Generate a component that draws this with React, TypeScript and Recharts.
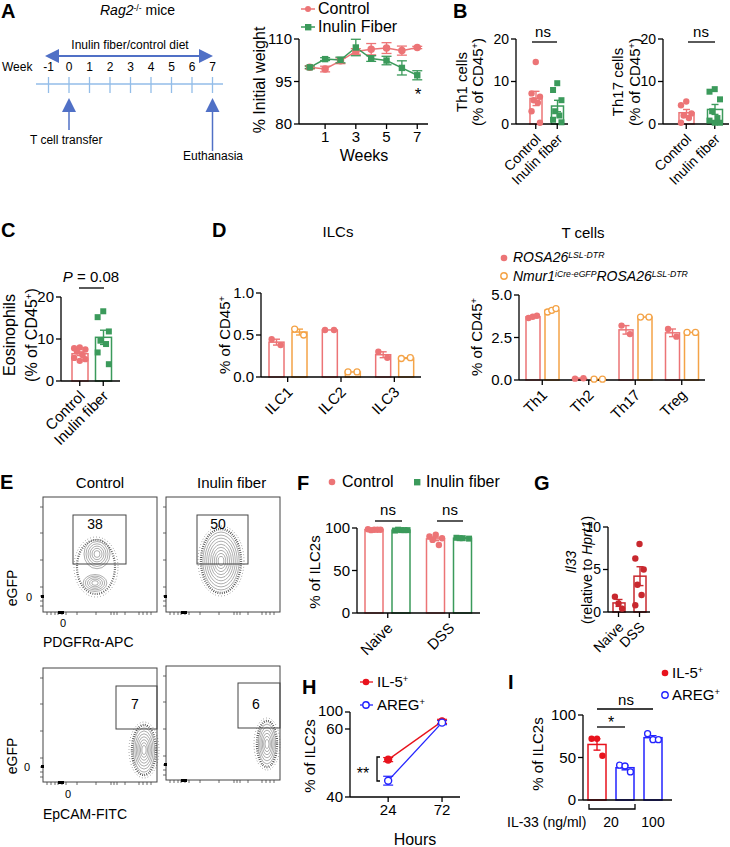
import React from "react";
import { ComposedChart, LineChart, Line, Bar, Scatter, XAxis, YAxis, ErrorBar } from "recharts";

const FONT = '"Liberation Sans", Arial, Helvetica, sans-serif';
const PINK = "#ec7476";
const GREEN = "#3b9a5b";
const ORANGE = "#f4a347";
const RED = "#e8121c";
const BLUE = "#2323ff";
const DARKRED = "#c8282e";
const ARROW = "#5070c6";
const TIMELINE = "#93bde8";

// ---- A: body weight over time ----
const weeks = [0, 1, 2, 3, 4, 5, 6, 7];
const weightControl = [100, 99.4, 102.3, 105.6, 106.4, 106.8, 105.9, 107];
const weightControlErr = [0.6, 1.0, 1.0, 1.0, 2.0, 1.9, 1.6, 0.4];
const weightInulin = [100, 102.9, 102.6, 107, 103.1, 102.4, 99.8, 97.2];
const weightInulinErr = [0.4, 0.5, 1.0, 2.9, 1.0, 1.5, 2.5, 1.6];
const schematicWeeks = [-1, 0, 1, 2, 3, 4, 5, 6, 7];

// ---- B / C: colon T cells and eosinophils ----
const dietGroups = ["Control", "Inulin fiber"];
const th1Control = [14.6, 7.2, 6.4, 5.6, 5.0, 3.0, 0.3];
const th1Inulin = [9.6, 8.0, 5.6, 3.0, 2.0, 1.0, 0.4];
const th17Control = [5.3, 4.4, 2.5, 2.0, 1.4, 0.3];
const th17Inulin = [8.2, 7.6, 5.8, 3.0, 1.4, 0.8, 0.3, 0.3];
const eosControl = [8.0, 7.8, 7.5, 7.0, 6.2, 5.5, 5.2, 4.8];
const eosInulin = [16.6, 15.2, 11.8, 9.6, 8.8, 6.8, 4.0];

// ---- D: ILCs and T cells ----
const ilcTypes = ["ILC1", "ILC2", "ILC3"];
const ilcRosa = [[0.45, 0.38], [0.56, 0.56], [0.3, 0.23]];
const ilcNmur = [[0.57, 0.5], [0.06, 0.06], [0.22, 0.23]];
const tTypes = ["Th1", "Th2", "Th17", "Treg"];
const tRosa = [[3.65, 3.72, 3.78], [0.08, 0.1], [3.2, 2.7], [3.0, 2.55]];
const tNmur = [[4.0, 4.1, 4.2], [0.05, 0.05], [3.7, 3.7], [2.8, 2.8]];

// ---- F / G ----
const colitisGroups = ["Naive", "DSS"];
const fControl = [[98, 98.5, 98, 97.5, 98], [92, 90, 88, 86, 80]];
const fInulin = [[97.5, 97, 97.5, 98, 97.5], [88, 88.5, 87.5, 88]];
const il33 = [[1.8, 1.0, 0.4], [8.0, 6.3, 5.0, 3.2, 2.0, 0.8]];

// ---- H / I ----
const hours = [24, 72];
const il5Pct = [51, 78];
const il5Err = [0.6, 0.6];
const aregPct = [44.8, 75];
const aregErr = [1.3, 0.6];
const iGroups = ["IL-5 20", "AREG 20", "AREG 100"];
const iValues = [[72, 72, 52], [41, 40, 33], [78, 71, 71]];

const mean = (a: number[]) => a.reduce((s, v) => s + v, 0) / a.length;
const sem = (a: number[]) => {
  if (a.length < 2) return 0;
  const m = mean(a);
  return Math.sqrt(a.reduce((s, v) => s + (v - m) ** 2, 0) / (a.length - 1) / a.length);
};
// H uses a broken y axis: everything above 60 is squeezed
const brk = (v: number) => (v <= 60 ? v : 60 + (v - 60) / 8);

function jitter(i: number, n: number, bw: number) {
  if (n === 1) return 0;
  if (n <= 3) return (i / (n - 1) - 0.5) * 0.6 * bw;
  const pat = [0, -1, 1, -0.5, 0.5, -1, 1, 0];
  return pat[i % pat.length] * 0.35 * bw;
}

const axisStyle = (fs: number) => ({
  axisLine: { stroke: "#000", strokeWidth: 1.3 },
  tickLine: { stroke: "#000", strokeWidth: 1.3 },
  tickSize: 5,
  tick: { fill: "#000", fontSize: fs, fontFamily: FONT },
});

function hollowBar(meanKey: string, semKey: string, color?: string) {
  return (p: any) => {
    const { x, y, width, height, payload } = p;
    const c = color ?? payload.color;
    const m = payload[meanKey];
    const e = payload[semKey] || 0;
    const ppu = m ? height / m : 0;
    const cx = x + width / 2;
    const up = y - e * ppu;
    const dn = y + e * ppu;
    return (
      <g>
        <rect x={x} y={y} width={width} height={height} fill="#fff" stroke={c} strokeWidth={1.5} />
        {e > 0 && (
          <g stroke={c} strokeWidth={1.4}>
            <line x1={cx} x2={cx} y1={up} y2={dn} />
            <line x1={cx - 3.5} x2={cx + 3.5} y1={up} y2={up} />
            <line x1={cx - 3.5} x2={cx + 3.5} y1={dn} y2={dn} />
          </g>
        )}
      </g>
    );
  };
}

const dotShape = (p: any) => {
  const { cx, cy, payload } = p;
  const x = cx + payload.dx;
  if (payload.m === "sq") return <rect x={x - 3} y={cy - 3} width={6} height={6} fill={payload.c} />;
  if (payload.m === "ring")
    return <circle cx={x} cy={cy} r={3} fill="#fff" stroke={payload.c} strokeWidth={1.3} />;
  return <circle cx={x} cy={cy} r={3.2} fill={payload.c} />;
};

const RotTick = (fs: number) => (props: any) => {
  const { x, y, payload } = props;
  const ax = x + 6;
  const ay = y + 9;
  return (
    <text x={ax} y={ay} transform={`rotate(-45 ${ax} ${ay})`} textAnchor="end" fontSize={fs} fontFamily={FONT} fill="#000">
      {payload.value}
    </text>
  );
};

type Cat = { name: string; color: string; pts: number[]; marker: string };

function BarDots(props: any) {
  const { x0, y0, x1, y1, cats, domain, ticks, bw, padL = 0, padR = 0, fmt, fs = 14, labels = true } = props;
  const YW = 44, T = 8, R = 6, XH = 80;
  const rows = cats.map((c: Cat) => ({ name: c.name, mean: mean(c.pts), sem: sem(c.pts), color: c.color }));
  const pts = cats.flatMap((c: Cat) =>
    c.pts.map((v, i) => ({ name: c.name, v, dx: jitter(i, c.pts.length, bw), c: c.color, m: c.marker }))
  );
  return (
    <div style={{ position: "absolute", left: x0 - YW, top: y0 - T }}>
      <ComposedChart width={x1 - x0 + YW + R} height={y1 - y0 + T + XH} data={rows} margin={{ top: T, right: R, left: 0, bottom: 0 }}>
        <XAxis
          dataKey="name"
          type="category"
          allowDuplicatedCategory={false}
          interval={0}
          height={XH}
          padding={{ left: padL, right: padR }}
          {...axisStyle(fs)}
          tick={labels ? RotTick(fs) : false}
        />
        <YAxis width={YW} type="number" domain={domain} ticks={ticks} interval={0} tickFormatter={fmt} {...axisStyle(fs)} />
        <Bar dataKey="mean" barSize={bw} isAnimationActive={false} shape={hollowBar("mean", "sem")} />
        <Scatter data={pts} dataKey="v" isAnimationActive={false} shape={dotShape} />
      </ComposedChart>
    </div>
  );
}

function Grouped(props: any) {
  const { x0, y0, x1, y1, types, a, b, ca, cb, ma, mb, domain, ticks, bw, gap, fmt, fs = 15 } = props;
  const YW = 44, T = 8, R = 6, XH = 70;
  const off = (bw + gap) / 2;
  const rows = types.map((t: string, i: number) => ({ name: t, a: mean(a[i]), ae: sem(a[i]), b: mean(b[i]), be: sem(b[i]) }));
  const pa = types.flatMap((t: string, i: number) =>
    a[i].map((v: number, j: number) => ({ name: t, v, dx: -off + jitter(j, a[i].length, bw), c: ca, m: ma }))
  );
  const pb = types.flatMap((t: string, i: number) =>
    b[i].map((v: number, j: number) => ({ name: t, v, dx: off + jitter(j, b[i].length, bw), c: cb, m: mb }))
  );
  return (
    <div style={{ position: "absolute", left: x0 - YW, top: y0 - T }}>
      <ComposedChart width={x1 - x0 + YW + R} height={y1 - y0 + T + XH} data={rows} barGap={gap} margin={{ top: T, right: R, left: 0, bottom: 0 }}>
        <XAxis dataKey="name" type="category" allowDuplicatedCategory={false} interval={0} height={XH} {...axisStyle(fs)} tick={RotTick(fs)} />
        <YAxis width={YW} type="number" domain={domain} ticks={ticks} interval={0} tickFormatter={fmt} {...axisStyle(fs)} />
        <Bar dataKey="a" barSize={bw} isAnimationActive={false} shape={hollowBar("a", "ae", ca)} />
        <Bar dataKey="b" barSize={bw} isAnimationActive={false} shape={hollowBar("b", "be", cb)} />
        <Scatter data={pa} dataKey="v" isAnimationActive={false} shape={dotShape} />
        <Scatter data={pb} dataKey="v" isAnimationActive={false} shape={dotShape} />
      </ComposedChart>
    </div>
  );
}

const weightRows = weeks.map((w, i) => ({
  w,
  c: weightControl[i],
  ce: weightControlErr[i],
  f: weightInulin[i],
  fe: weightInulinErr[i],
}));

function WeightChart() {
  const x0 = 299, y0 = 39, x1 = 428, y1 = 124;
  const YW = 44, T = 8, R = 6, XH = 30;
  return (
    <div style={{ position: "absolute", left: x0 - YW, top: y0 - T }}>
      <LineChart width={x1 - x0 + YW + R} height={y1 - y0 + T + XH} data={weightRows} margin={{ top: T, right: R, left: 0, bottom: 0 }}>
        <XAxis dataKey="w" type="number" domain={[-0.7, 7.7]} ticks={[1, 3, 5, 7]} interval={0} height={XH} {...axisStyle(15)} />
        <YAxis width={YW} type="number" domain={[80, 110]} ticks={[80, 95, 110]} interval={0} {...axisStyle(15)} />
        <Line dataKey="c" stroke={PINK} strokeWidth={1.5} dot={{ r: 3, fill: PINK, stroke: PINK }} isAnimationActive={false}>
          <ErrorBar dataKey="ce" direction="y" width={5} stroke={PINK} strokeWidth={1.3} />
        </Line>
        <Line
          dataKey="f"
          stroke={GREEN}
          strokeWidth={1.5}
          isAnimationActive={false}
          dot={(p: any) => <rect key={`sq${p.index}`} x={p.cx - 3.2} y={p.cy - 3.2} width={6.4} height={6.4} fill={GREEN} />}
        >
          <ErrorBar dataKey="fe" direction="y" width={5} stroke={GREEN} strokeWidth={1.3} />
        </Line>
      </LineChart>
    </div>
  );
}

const hRows = hours.map((h, i) => ({ h, il5: brk(il5Pct[i]), il5e: il5Err[i], areg: brk(aregPct[i]), arege: aregErr[i] }));

function KineticsChart() {
  const x0 = 350, y0 = 712, x1 = 460, y1 = 797;
  const YW = 44, T = 18, R = 6, XH = 30;
  return (
    <div style={{ position: "absolute", left: x0 - YW, top: y0 - T }}>
      <LineChart width={x1 - x0 + YW + R} height={y1 - y0 + T + XH} data={hRows} margin={{ top: T, right: R, left: 0, bottom: 0 }}>
        <XAxis dataKey="h" type="number" domain={[-10, 88]} ticks={hours} interval={0} height={XH} {...axisStyle(15)} />
        <YAxis
          width={YW}
          type="number"
          domain={[40, brk(100)]}
          ticks={[40, 60, brk(100)]}
          interval={0}
          tickFormatter={(v: number) => (v > 61 ? "" : String(v))}
          {...axisStyle(15)}
        />
        <Line dataKey="il5" stroke={RED} strokeWidth={1.3} dot={{ r: 3.5, fill: RED, stroke: RED }} isAnimationActive={false}>
          <ErrorBar dataKey="il5e" direction="y" width={5} stroke={RED} strokeWidth={1.2} />
        </Line>
        <Line dataKey="areg" stroke={BLUE} strokeWidth={1.3} dot={{ r: 3.5, fill: "#fff", stroke: BLUE, strokeWidth: 1.4 }} isAnimationActive={false}>
          <ErrorBar dataKey="arege" direction="y" width={5} stroke={BLUE} strokeWidth={1.2} />
        </Line>
      </LineChart>
    </div>
  );
}

function Tx(props: any) {
  const { x, y, s = 15, a = "start", r = 0, b = false, i = false, c = "#000", children } = props;
  const tx = a === "start" ? "0" : a === "middle" ? "-50%" : "-100%";
  return (
    <div
      style={{
        position: "absolute",
        left: x,
        top: y,
        transform: `translate(${tx}, -50%) rotate(${r}deg)`,
        fontSize: s,
        fontWeight: b ? "bold" : "normal",
        fontStyle: i ? "italic" : "normal",
        color: c,
        whiteSpace: "nowrap",
        lineHeight: 1.1,
        fontFamily: FONT,
      }}
    >
      {children}
    </div>
  );
}

const Sup = ({ children }: any) => <sup style={{ fontSize: "0.62em", verticalAlign: "0.55em", lineHeight: 0 }}>{children}</sup>;

function Blob({ cx, cy, rx, ry, rings = 6, outer = true }: any) {
  return (
    <g>
      {outer && (
        <>
          <ellipse cx={cx} cy={cy} rx={rx + 3} ry={ry + 3} fill="none" stroke="#666" strokeWidth={1} strokeDasharray="0.6 2.4" />
          <ellipse cx={cx} cy={cy} rx={rx} ry={ry} fill="none" stroke="#222" strokeWidth={2.4} strokeDasharray="0.8 1.4" opacity={0.85} />
        </>
      )}
      {Array.from({ length: rings }, (_, k) => (
        <ellipse
          key={k}
          cx={cx}
          cy={cy}
          rx={rx * (1 - (k + 1) / (rings + 1.5))}
          ry={ry * (1 - (k + 1) / (rings + 1.5))}
          fill="none"
          stroke="#8a8a8a"
          strokeWidth={0.7}
        />
      ))}
    </g>
  );
}

function FlowBox({ x, y, w, h, gate, children }: any) {
  const lt = [10, 36, 63, 90, 99, 104, 109];
  const bt = [4, 8, 12, 15, 19, 23, 34, 53, 68, 71, 74, 82, 96, 100, 104, 108];
  return (
    <g>
      {children}
      <rect x={x} y={y} width={w} height={h} fill="none" stroke="#444" strokeWidth={1} />
      {lt.map((t) => (
        <line key={"l" + t} x1={x - 3} x2={x} y1={y + t} y2={y + t} stroke="#444" strokeWidth={0.8} />
      ))}
      {bt.map((t) => (
        <line key={"b" + t} x1={x + t} x2={x + t} y1={y + h} y2={y + h + 3} stroke="#444" strokeWidth={0.8} />
      ))}
      <rect x={x - 2} y={y + h - 17} width={3} height={3} fill="#000" />
      <rect x={x + 15} y={y + h - 1} width={6} height={3} fill="#000" />
      <rect x={gate[0]} y={gate[1]} width={gate[2]} height={gate[3]} fill="none" stroke="#444" strokeWidth={1} />
    </g>
  );
}

function Drawings() {
  const wx = (w: number) => 69 + 20.5 * w;
  return (
    <svg width={730} height={847} style={{ position: "absolute", left: 0, top: 0 }}>
      {/* A schematic */}
      <line x1={57} x2={201} y1={56} y2={56} stroke={ARROW} strokeWidth={2} />
      <polygon points="45,56 59,49 59,63" fill={ARROW} />
      <polygon points="213,56 199,49 199,63" fill={ARROW} />
      <line x1={36} x2={223} y1={84} y2={84} stroke={TIMELINE} strokeWidth={1.5} />
      {schematicWeeks.map((w) => (
        <line key={w} x1={wx(w)} x2={wx(w)} y1={77} y2={93} stroke={TIMELINE} strokeWidth={1.3} />
      ))}
      <polygon points={`${wx(0)},98 ${wx(0) - 7},112 ${wx(0) + 7},112`} fill={ARROW} />
      <line x1={wx(0)} x2={wx(0)} y1={110} y2={130} stroke={ARROW} strokeWidth={1.5} />
      <polygon points={`${wx(7)},98 ${wx(7) - 7},112 ${wx(7) + 7},112`} fill={ARROW} />
      <line x1={wx(7)} x2={wx(7)} y1={110} y2={151} stroke={ARROW} strokeWidth={1.5} />

      {/* significance marks */}
      <g stroke="#000" strokeWidth={1.3} fill="none">
        <line x1={532} x2={557} y1={42} y2={42} />
        <line x1={688} x2={715} y1={42} y2={42} />
        <line x1={79} x2={104} y1={288} y2={288} />
        <line x1={375} x2={402} y1={521} y2={521} />
        <line x1={437} x2={463} y1={521} y2={521} />
        <path d="M380 757 H377 V781 H380" />
        <line x1={597} x2={653} y1={709} y2={709} />
        <line x1={597} x2={625} y1={727} y2={727} />
        <path d="M589 804 V809 H635 V804" />
      </g>

      {/* E flow plots */}
      <FlowBox x={43} y={497} w={114} h={115} gate={[73, 515, 53, 49]}>
        <ellipse cx={96} cy={567} rx={22} ry={30} fill="none" stroke="#666" strokeWidth={1} strokeDasharray="0.6 2.4" />
        <ellipse cx={96} cy={567} rx={19} ry={27} fill="none" stroke="#222" strokeWidth={2.2} strokeDasharray="0.8 1.5" opacity={0.8} />
        <Blob cx={97} cy={554} rx={15} ry={17} rings={6} outer={false} />
        <Blob cx={95} cy={583} rx={14} ry={10} rings={5} outer={false} />
      </FlowBox>
      <FlowBox x={166} y={497} w={114} h={115} gate={[197, 515, 51, 49]}>
        <Blob cx={221} cy={561} rx={20} ry={32} rings={9} />
      </FlowBox>
      <FlowBox x={43} y={668} w={114} h={114} gate={[116, 686, 41, 43]}>
        <Blob cx={144} cy={750} rx={12} ry={25} rings={7} />
      </FlowBox>
      <FlowBox x={166} y={666} w={114} h={114} gate={[238, 683, 42, 45]}>
        <Blob cx={267} cy={744} rx={10} ry={23} rings={6} />
      </FlowBox>

      {/* legend markers */}
      <line x1={301} x2={315} y1={9} y2={9} stroke={PINK} strokeWidth={1.5} />
      <circle cx={308} cy={9} r={3} fill={PINK} />
      <line x1={301} x2={315} y1={27} y2={27} stroke={GREEN} strokeWidth={1.5} />
      <rect x={305} y={24} width={6.4} height={6.4} fill={GREEN} />
      <circle cx={504} cy={258} r={3.3} fill={PINK} />
      <circle cx={504} cy={276} r={3.2} fill="#fff" stroke={ORANGE} strokeWidth={1.4} />
      <circle cx={332} cy={482} r={3.3} fill={PINK} />
      <rect x={414} y={479} width={6.4} height={6.4} fill={GREEN} />
      <line x1={360} x2={373} y1={682} y2={682} stroke={RED} strokeWidth={1.3} />
      <circle cx={366} cy={682} r={3.3} fill={RED} />
      <line x1={360} x2={373} y1={705} y2={705} stroke={BLUE} strokeWidth={1.3} />
      <circle cx={366} cy={705} r={3.2} fill="#fff" stroke={BLUE} strokeWidth={1.4} />
      <circle cx={665} cy={673} r={3.3} fill={RED} />
      <circle cx={665} cy={695} r={3.2} fill="#fff" stroke={BLUE} strokeWidth={1.4} />
    </svg>
  );
}

function Labels() {
  const wx = (w: number) => 69 + 20.5 * w;
  const cd45 = (
    <>
      (% of CD45<Sup>+</Sup>)
    </>
  );
  return (
    <>
      {/* panel letters */}
      <Tx x={1} y={11} s={20} b>A</Tx>
      <Tx x={453} y={11} s={20} b>B</Tx>
      <Tx x={1} y={230} s={20} b>C</Tx>
      <Tx x={212} y={230} s={20} b>D</Tx>
      <Tx x={0} y={482} s={20} b>E</Tx>
      <Tx x={297} y={483} s={20} b>F</Tx>
      <Tx x={534} y={483} s={20} b>G</Tx>
      <Tx x={302} y={687} s={20} b>H</Tx>
      <Tx x={508} y={682} s={20} b>I</Tx>

      {/* A schematic */}
      <Tx x={100} y={11} s={14}>
        <i>Rag2</i>
        <Sup>-/-</Sup> mice
      </Tx>
      <Tx x={130} y={46} s={12} a="middle">Inulin fiber/control diet</Tx>
      <Tx x={2} y={68} s={12}>Week</Tx>
      {schematicWeeks.map((w) => (
        <Tx key={w} x={wx(w)} y={68} s={12} a="middle">
          {w}
        </Tx>
      ))}
      <Tx x={30} y={141} s={12}>T cell transfer</Tx>
      <Tx x={183} y={157} s={12}>Euthanasia</Tx>

      {/* A chart */}
      <Tx x={318} y={9} s={16}>Control</Tx>
      <Tx x={318} y={27} s={16}>Inulin Fiber</Tx>
      <Tx x={260} y={80} s={16} a="middle" r={-90}>% Initial weight</Tx>
      <Tx x={364} y={156} s={16} a="middle">Weeks</Tx>
      <Tx x={418} y={95} s={17} a="middle">*</Tx>

      {/* B */}
      <Tx x={462} y={82} s={15} a="middle" r={-90}>Th1 cells</Tx>
      <Tx x={478} y={82} s={15} a="middle" r={-90}>{cd45}</Tx>
      <Tx x={543} y={32} s={15} a="middle">ns</Tx>
      <Tx x={618} y={82} s={15} a="middle" r={-90}>Th17 cells</Tx>
      <Tx x={635} y={82} s={15} a="middle" r={-90}>{cd45}</Tx>
      <Tx x={701} y={32} s={15} a="middle">ns</Tx>

      {/* C */}
      <Tx x={10} y={335} s={16} a="middle" r={-90}>Eosinophils</Tx>
      <Tx x={32} y={335} s={16} a="middle" r={-90}>{cd45}</Tx>
      <Tx x={91} y={277} s={15} a="middle">
        <i>P</i> = 0.08
      </Tx>

      {/* D */}
      <Tx x={338} y={232} s={15} a="middle">ILCs</Tx>
      <Tx x={583} y={233} s={15} a="middle">T cells</Tx>
      <Tx x={225} y={335} s={15} a="middle" r={-90}>
        % of CD45<Sup>+</Sup>
      </Tx>
      <Tx x={477} y={337} s={15} a="middle" r={-90}>
        % of CD45<Sup>+</Sup>
      </Tx>
      <Tx x={513} y={258} s={14} i>
        ROSA26<Sup>LSL-DTR</Sup>
      </Tx>
      <Tx x={513} y={277} s={14} i>
        Nmur1<Sup>iCre-eGFP</Sup>ROSA26<Sup>LSL-DTR</Sup>
      </Tx>

      {/* E */}
      <Tx x={100} y={483} s={15} a="middle">Control</Tx>
      <Tx x={197} y={483} s={15}>Inulin fiber</Tx>
      <Tx x={95} y={525} s={14} a="middle">38</Tx>
      <Tx x={218} y={525} s={14} a="middle">50</Tx>
      <Tx x={135} y={705} s={14} a="middle">7</Tx>
      <Tx x={256} y={705} s={14} a="middle">6</Tx>
      <Tx x={13} y={588} s={14} a="middle" r={-90}>eGFP</Tx>
      <Tx x={13} y={756} s={14} a="middle" r={-90}>eGFP</Tx>
      <Tx x={29} y={597} s={11} a="middle">0</Tx>
      <Tx x={63} y={623} s={11} a="middle">0</Tx>
      <Tx x={27} y={767} s={11} a="middle">0</Tx>
      <Tx x={68} y={794} s={11} a="middle">0</Tx>
      <Tx x={43} y={643} s={14}>PDGFRα-APC</Tx>
      <Tx x={43} y={815} s={14}>EpCAM-FITC</Tx>

      {/* F */}
      <Tx x={342} y={482} s={16}>Control</Tx>
      <Tx x={426} y={482} s={16}>Inulin fiber</Tx>
      <Tx x={315} y={572} s={15} a="middle" r={-90}>% of ILC2s</Tx>
      <Tx x={388} y={510} s={15} a="middle">ns</Tx>
      <Tx x={450} y={510} s={15} a="middle">ns</Tx>

      {/* G */}
      <Tx x={572} y={562} s={14} a="middle" r={-90} i>Il33</Tx>
      <Tx x={588} y={570} s={14} a="middle" r={-90}>
        (relative to <i>Hprt1</i>)
      </Tx>

      {/* H */}
      <Tx x={377} y={682} s={15}>
        IL-5<Sup>+</Sup>
      </Tx>
      <Tx x={377} y={705} s={15}>
        AREG<Sup>+</Sup>
      </Tx>
      <Tx x={343} y={711} s={15} a="end">100</Tx>
      <Tx x={310} y={756} s={15} a="middle" r={-90}>% of ILC2s</Tx>
      <Tx x={363} y={774} s={16} a="middle">**</Tx>
      <Tx x={415} y={840} s={16} a="middle">Hours</Tx>

      {/* I */}
      <Tx x={672} y={673} s={15}>
        IL-5<Sup>+</Sup>
      </Tx>
      <Tx x={672} y={695} s={15}>
        AREG<Sup>+</Sup>
      </Tx>
      <Tx x={538} y={754} s={15} a="middle" r={-90}>% of ILC2s</Tx>
      <Tx x={626} y={700} s={15} a="middle">ns</Tx>
      <Tx x={611} y={723} s={16} a="middle">*</Tx>
      <Tx x={507} y={823} s={14}>IL-33 (ng/ml)</Tx>
      <Tx x={611} y={823} s={14} a="middle">20</Tx>
      <Tx x={653} y={823} s={14} a="middle">100</Tx>
    </>
  );
}

export default function App() {
  const fmt1 = (v: number) => v.toFixed(1);
  return (
    <div style={{ position: "relative", width: 730, height: 847, background: "#fff", overflow: "hidden", fontFamily: FONT }}>
      <style>{"body{margin:0}"}</style>
      <Drawings />
      <WeightChart />
      <BarDots
        x0={516} y0={39} x1={568} y1={124} bw={12} padL={9}
        domain={[0, 20]} ticks={[0, 10, 20]}
        cats={[
          { name: dietGroups[0], color: PINK, pts: th1Control, marker: "dot" },
          { name: dietGroups[1], color: GREEN, pts: th1Inulin, marker: "sq" },
        ]}
      />
      <BarDots
        x0={663} y0={39} x1={729} y1={124} bw={15} padL={9}
        domain={[0, 20]} ticks={[0, 10, 20]}
        cats={[
          { name: dietGroups[0], color: PINK, pts: th17Control, marker: "dot" },
          { name: dietGroups[1], color: GREEN, pts: th17Inulin, marker: "sq" },
        ]}
      />
      <BarDots
        x0={61} y0={297} x1={120} y1={381} bw={16} padL={7} padR={5} fs={15}
        domain={[0, 20]} ticks={[0, 10, 20]}
        cats={[
          { name: dietGroups[0], color: PINK, pts: eosControl, marker: "dot" },
          { name: dietGroups[1], color: GREEN, pts: eosInulin, marker: "sq" },
        ]}
      />
      <Grouped
        x0={261} y0={293} x1={421} y1={377} bw={15} gap={8}
        types={ilcTypes} a={ilcRosa} b={ilcNmur} ca={PINK} cb={ORANGE} ma="dot" mb="ring"
        domain={[0, 1]} ticks={[0, 0.5, 1]} fmt={fmt1}
      />
      <Grouped
        x0={519} y0={295} x1={705} y1={380} bw={14} gap={5}
        types={tTypes} a={tRosa} b={tNmur} ca={PINK} cb={ORANGE} ma="dot" mb="ring"
        domain={[0, 5]} ticks={[0, 2.5, 5]} fmt={fmt1}
      />
      <Grouped
        x0={357} y0={528} x1={480} y1={613} bw={18} gap={9} fs={15}
        types={colitisGroups} a={fControl} b={fInulin} ca={PINK} cb={GREEN} ma="dot" mb="sq"
        domain={[0, 100]} ticks={[0, 50, 100]}
      />
      <BarDots
        x0={608} y0={527} x1={650} y1={612} bw={12}
        domain={[0, 10]} ticks={[0, 5, 10]}
        cats={colitisGroups.map((g, i) => ({ name: g, color: DARKRED, pts: il33[i], marker: "dot" }))}
      />
      <KineticsChart />
      <BarDots
        x0={583} y0={715} x1={672} y1={800} bw={18} padR={5} fs={15} labels={false}
        domain={[0, 100]} ticks={[0, 50, 100]}
        cats={iGroups.map((g, i) => ({
          name: g,
          color: i === 0 ? RED : BLUE,
          pts: iValues[i],
          marker: i === 0 ? "dot" : "ring",
        }))}
      />
      <Labels />
    </div>
  );
}
